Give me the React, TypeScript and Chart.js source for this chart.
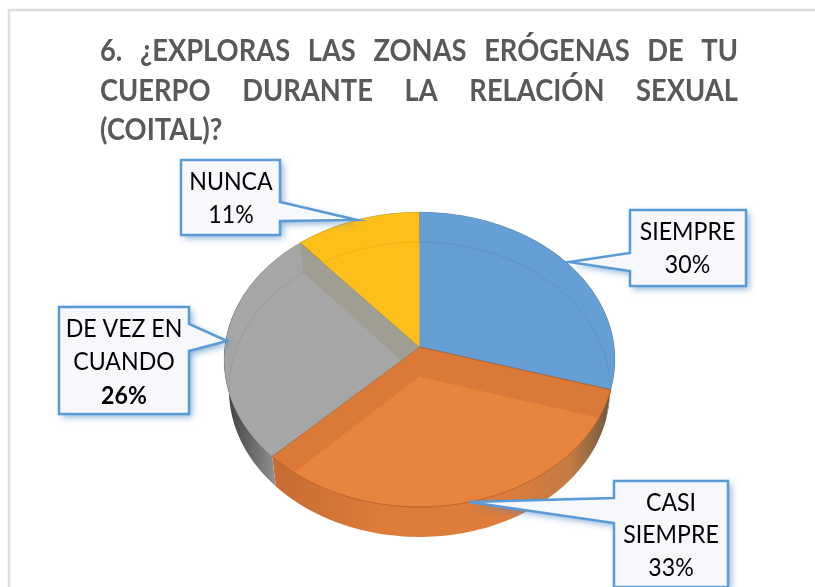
import React, { useEffect, useRef } from "react";
import { Chart, registerables } from "chart.js";

Chart.register(...registerables);

const categories = ["SIEMPRE", "CASI SIEMPRE", "DE VEZ EN CUANDO", "NUNCA"];
const values = [29.6, 33, 26.1, 11.3];
const labelLines = [["SIEMPRE"], ["CASI", "SIEMPRE"], ["DE VEZ EN", "CUANDO"], ["NUNCA"]];
const titleLines = [
  "6. ¿EXPLORAS LAS ZONAS ERÓGENAS DE TU",
  "CUERPO DURANTE LA RELACIÓN SEXUAL",
  "(COITAL)?",
];

const colors = ["#659FD6", "#E9843F", "#A6A6A6", "#FDC01A"];
const wallColors = ["#5A93C8", "#DB7A38", "#A09E92", "#E8AE18"];
const rimStops: [number, string][][] = [
  [[0, "#5f8fb8"], [1, "#4f6f88"]],
  [[0, "#C56B31"], [0.3, "#DC7B3A"], [0.7, "#DE7D3C"], [0.88, "#C47A42"], [1, "#6B5A42"]],
  [[0, "#3d3d3d"], [0.5, "#7c7c7c"], [1, "#c6c6c6"]],
  [[0, "#c9a020"], [1, "#c9a020"]],
];

const PERSPECTIVE = 0.0847;
const SCALE_X = 0.9987;
const SCALE_Y = 0.7507;
const DEPTH = 30;
const FLOOR_X = 0.975;
const FONT = "Lato";
const TITLE_SQUEEZE = 0.91;
const LABEL_SQUEEZE = 0.925;

const callouts = [
  { box: [630, 210, 116, 76], tip: [569, 262], joints: [[630, 253], [630, 271]], text: 687.5, y: [232, 265], boldPct: false },
  { box: [614, 481, 114, 106], tip: [469, 502], joints: [[614, 498], [614, 523]], text: 671, y: [503, 535, 568], boldPct: false },
  { box: [59, 307, 130, 107], tip: [227, 341], joints: [[189, 324], [189, 351]], text: 124, y: [329, 362, 396], boldPct: true },
  { box: [181, 160, 99, 75], tip: [357, 220], joints: [[280, 202], [280, 221]], text: 231, y: [182, 215], boldPct: false },
];

type Pt = [number, number];

function project(el: any, angle: number, r = 1): Pt {
  const R = el.outerRadius;
  const u = r * Math.cos(angle);
  const v = r * Math.sin(angle);
  const w = 1 - PERSPECTIVE * v;
  return [el.x + (R * SCALE_X * u) / w, el.y + (R * SCALE_Y * v) / w];
}
function toFloor(el: any, p: Pt): Pt {
  return [el.x + (p[0] - el.x) * FLOOR_X, p[1] + DEPTH];
}
function arcPts(el: any): Pt[] {
  const n = 90;
  const pts: Pt[] = [];
  for (let i = 0; i <= n; i++) {
    pts.push(project(el, el.startAngle + ((el.endAngle - el.startAngle) * i) / n));
  }
  return pts;
}
function poly(ctx: CanvasRenderingContext2D, pts: Pt[]) {
  ctx.beginPath();
  pts.forEach((p, i) => (i ? ctx.lineTo(p[0], p[1]) : ctx.moveTo(p[0], p[1])));
  ctx.closePath();
}

const pie3d = {
  id: "pie3d",
  beforeDraw(chart: any) {
    const ctx: CanvasRenderingContext2D = chart.ctx;
    ctx.save();
    ctx.fillStyle = "#ffffff";
    ctx.fillRect(0, 0, chart.width, chart.height);
    ctx.strokeStyle = "#DEDEDE";
    ctx.lineWidth = 2.5;
    ctx.beginPath();
    ctx.moveTo(9, chart.height);
    ctx.lineTo(9, 10);
    ctx.lineTo(chart.width, 10);
    ctx.stroke();
    // title, justified
    const left = 100;
    const right = 738;
    ctx.font = `bold 30px ${FONT}`;
    ctx.fillStyle = "#595959";
    ctx.textBaseline = "alphabetic";
    ctx.textAlign = "left";
    titleLines.forEach((line, i) => {
      const gaps = line.split(" ").length - 1;
      (ctx as any).wordSpacing = "0px";
      const width = ctx.measureText(line).width;
      const target = (right - left) / TITLE_SQUEEZE;
      const extra = i < titleLines.length - 1 && gaps > 0 ? (target - width) / gaps : 0;
      (ctx as any).wordSpacing = `${extra}px`;
      ctx.save();
      ctx.translate(left, 61 + i * 39.5);
      ctx.scale(TITLE_SQUEEZE, 1);
      ctx.fillText(line, 0, 0);
      ctx.restore();
    });
    (ctx as any).wordSpacing = "0px";
    ctx.restore();
  },
  beforeDatasetsDraw(chart: any) {
    const ctx: CanvasRenderingContext2D = chart.ctx;
    const arcs = chart.getDatasetMeta(0).data;
    ctx.save();
    // outer wall
    arcs.forEach((el: any, i: number) => {
      const top = arcPts(el);
      const floor = top.map((p) => toFloor(el, p));
      const xs = top.map((p) => p[0]).concat(floor.map((p) => p[0]));
      const g = ctx.createLinearGradient(Math.min(...xs), 0, Math.max(...xs), 0);
      rimStops[i].forEach(([o, c]) => g.addColorStop(o, c));
      ctx.fillStyle = g;
      poly(ctx, top.concat(floor.slice().reverse()));
      ctx.fill();
    });
    // upper surface, with the walls and floor seen through it
    arcs.forEach((el: any, i: number) => {
      const centre: Pt = [el.x, el.y];
      const floorCentre = toFloor(el, centre);
      const edge = arcPts(el);
      const floorEdge = edge.map((p) => toFloor(el, p));
      const surface = [centre, ...edge];
      const base = el.options.backgroundColor;
      ctx.save();
      poly(ctx, surface);
      ctx.clip();
      ctx.fillStyle = base;
      ctx.fill();
      ctx.fillStyle = wallColors[i];
      [edge[0], edge[edge.length - 1]].forEach((p) => {
        poly(ctx, [centre, p, toFloor(el, p), floorCentre]);
        ctx.fill();
      });
      ctx.fillStyle = base;
      poly(ctx, [floorCentre, ...floorEdge]);
      ctx.fill();
      ctx.strokeStyle = "rgba(0,0,0,0.07)";
      ctx.lineWidth = 1;
      ctx.beginPath();
      floorEdge.forEach((p, k) => (k ? ctx.lineTo(p[0], p[1]) : ctx.moveTo(p[0], p[1])));
      ctx.stroke();
      ctx.restore();
      ctx.strokeStyle = i === 1 ? "rgba(170,80,20,0.7)" : "rgba(60,60,60,0.14)";
      ctx.lineWidth = 1;
      poly(ctx, surface);
      ctx.stroke();
    });
    ctx.restore();
    return false;
  },
  afterDraw(chart: any) {
    const ctx: CanvasRenderingContext2D = chart.ctx;
    const total = values.reduce((a, b) => a + b, 0);
    ctx.save();
    callouts.forEach((c, i) => {
      const [x, y, w, h] = c.box;
      const side = c.joints[0][0] === x;
      const outline: Pt[] = [[x, y], [x + w, y]];
      if (!side) outline.push(c.joints[0] as Pt, c.tip as Pt, c.joints[1] as Pt);
      outline.push([x + w, y + h], [x, y + h]);
      if (side) outline.push(c.joints[1] as Pt, c.tip as Pt, c.joints[0] as Pt);
      ctx.save();
      ctx.shadowColor = "rgba(70,130,190,0.65)";
      ctx.shadowBlur = 7;
      ctx.shadowOffsetX = 3;
      ctx.shadowOffsetY = 3;
      ctx.fillStyle = "#F6F8FC";
      poly(ctx, outline);
      ctx.fill();
      ctx.restore();
      ctx.strokeStyle = "#5B9BD5";
      ctx.lineWidth = 2.5;
      ctx.lineJoin = "miter";
      poly(ctx, outline);
      ctx.stroke();
      const lines = [...labelLines[i], `${Math.round((values[i] / total) * 100)}%`];
      ctx.fillStyle = "#000000";
      ctx.textAlign = "center";
      ctx.textBaseline = "middle";
      lines.forEach((t, k) => {
        const pct = k === lines.length - 1;
        ctx.font = `${pct && c.boldPct ? "bold " : ""}25px ${FONT}`;
        ctx.save();
        ctx.translate(c.text, c.y[k]);
        ctx.scale(LABEL_SQUEEZE, 1);
        ctx.fillText(t, 0, 0);
        ctx.restore();
      });
    });
    ctx.restore();
  },
};

export default function App() {
  const ref = useRef<HTMLCanvasElement>(null);
  useEffect(() => {
    const chart = new Chart(ref.current as HTMLCanvasElement, {
      type: "pie",
      data: {
        labels: categories,
        datasets: [{ data: values, backgroundColor: colors, borderWidth: 0 }],
      },
      options: {
        responsive: false,
        animation: false,
        layout: { padding: { left: 224.5, right: 200.5, top: 152, bottom: 45 } },
        plugins: { legend: { display: false }, tooltip: { enabled: false } },
      },
      plugins: [pie3d],
    } as any);
    return () => chart.destroy();
  }, []);
  return (
    <canvas
      ref={ref}
      width={815}
      height={587}
      style={{ position: "fixed", left: 0, top: 0, display: "block", width: 815, height: 587 }}
    />
  );
}
